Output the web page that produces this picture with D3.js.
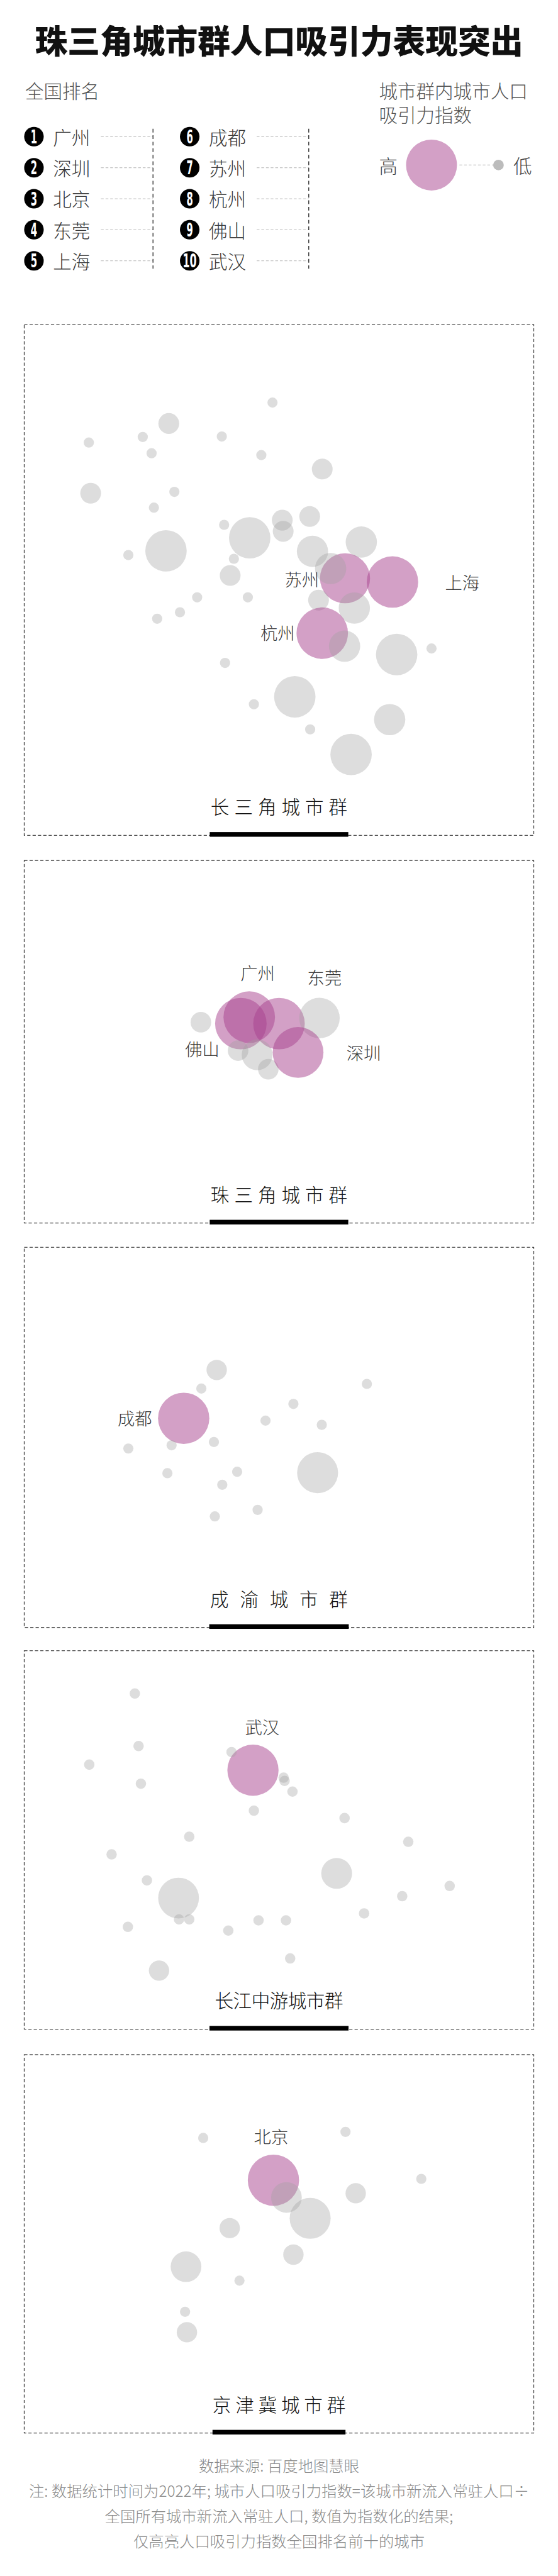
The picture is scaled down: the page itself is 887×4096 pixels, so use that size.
<!DOCTYPE html>
<html><head><meta charset="utf-8">
<script src="https://cdn.jsdelivr.net/npm/d3@7"></script>
<style>
html,body{margin:0;padding:0;background:#fff;}
svg{display:block;}
</style></head>
<body>
<svg id="chart"></svg>
<script>
// ================= DATA =================
const chartTitle = "珠三角城市群人口吸引力表现突出";
const rankTitle = "全国排名";
const rankCities = ["广州","深圳","北京","东莞","上海","成都","苏州","杭州","佛山","武汉"];
const sizeLegendTitle = ["城市群内城市人口","吸引力指数"];
const sizeLegendLabels = ["高","低"];
const sizeLegendValues = [30, 1.3];
const clusterNames = ["长三角城市群","珠三角城市群","成渝城市群","长江中游城市群","京津冀城市群"];
const footerLines = [
  "数据来源: 百度地图慧眼",
  "注: 数据统计时间为2022年; 城市人口吸引力指数=该城市新流入常驻人口÷",
  "全国所有城市新流入常驻人口, 数值为指数化的结果;",
  "仅高亮人口吸引力指数全国排名前十的城市"
];

// cities in each cluster: layout coordinates (x, y) and population attraction index (v)
const yrdCities = [
  {name:"", x:534, y:168, v:1.2},
  {name:"", x:311, y:213, v:5.0},
  {name:"", x:139, y:254, v:1.2},
  {name:"", x:255, y:242, v:1.2},
  {name:"", x:274, y:277, v:1.2},
  {name:"", x:425, y:241, v:1.2},
  {name:"", x:510, y:281, v:1.2},
  {name:"", x:641, y:311, v:5.0},
  {name:"", x:143, y:363, v:5.0},
  {name:"", x:323, y:360, v:1.2},
  {name:"", x:279, y:394, v:1.2},
  {name:"", x:430, y:431, v:1.2},
  {name:"", x:485, y:459, v:19.8},
  {name:"", x:555, y:421, v:5.0},
  {name:"", x:557, y:445, v:5.0},
  {name:"", x:614, y:413, v:5.0},
  {name:"", x:305, y:487, v:19.8},
  {name:"", x:224, y:496, v:1.2},
  {name:"", x:451, y:504, v:1.2},
  {name:"", x:620, y:488, v:11.3},
  {name:"", x:725, y:468, v:11.3},
  {name:"", x:443, y:540, v:5.0},
  {name:"苏州", x:690, y:546, v:29.0},
  {name:"上海", x:792, y:554, v:30.6},
  {name:"", x:659, y:525, v:11.3},
  {name:"", x:372, y:587, v:1.2},
  {name:"", x:481, y:587, v:1.2},
  {name:"", x:633, y:593, v:5.0},
  {name:"", x:710, y:610, v:11.3},
  {name:"", x:335, y:619, v:1.2},
  {name:"", x:286, y:633, v:1.2},
  {name:"杭州", x:641, y:664, v:30.6},
  {name:"", x:689, y:692, v:11.3},
  {name:"", x:876, y:697, v:1.2},
  {name:"", x:432, y:728, v:1.2},
  {name:"", x:801, y:710, v:19.8},
  {name:"", x:582, y:801, v:19.8},
  {name:"", x:494, y:817, v:1.2},
  {name:"", x:786, y:850, v:11.3},
  {name:"", x:615, y:871, v:1.2},
  {name:"", x:703, y:925, v:19.8}
];
const prdCities = [
  {name:"", x:380, y:348, v:4.9},
  {name:"佛山", x:466, y:351, v:30.7},
  {name:"广州", x:484, y:337, v:30.7},
  {name:"东莞", x:548, y:351, v:30.7},
  {name:"", x:635, y:339, v:19.0},
  {name:"", x:460, y:409, v:4.9},
  {name:"", x:501, y:418, v:11.0},
  {name:"", x:525, y:449, v:4.9},
  {name:"深圳", x:589, y:413, v:29.8}
];
const cyCities = [
  {name:"", x:414, y:264, v:4.8},
  {name:"", x:381, y:304, v:1.2},
  {name:"成都", x:343, y:368, v:30.4},
  {name:"", x:737, y:294, v:1.2},
  {name:"", x:579, y:337, v:1.2},
  {name:"", x:519, y:373, v:1.2},
  {name:"", x:640, y:382, v:1.2},
  {name:"", x:224, y:433, v:1.2},
  {name:"", x:317, y:426, v:1.2},
  {name:"", x:408, y:419, v:1.2},
  {name:"", x:631, y:485, v:19.4},
  {name:"", x:308, y:486, v:1.2},
  {name:"", x:458, y:483, v:1.2},
  {name:"", x:426, y:511, v:1.2},
  {name:"", x:502, y:565, v:1.2},
  {name:"", x:410, y:579, v:1.2}
];
const mycCities = [
  {name:"", x:238, y:92, v:1.25},
  {name:"", x:246, y:205, v:1.25},
  {name:"", x:140, y:245, v:1.25},
  {name:"", x:251, y:286, v:1.25},
  {name:"武汉", x:492, y:257, v:30.3},
  {name:"", x:446, y:218, v:1.25},
  {name:"", x:558, y:273, v:1.25},
  {name:"", x:560, y:280, v:1.25},
  {name:"", x:577, y:303, v:1.25},
  {name:"", x:494, y:344, v:1.25},
  {name:"", x:689, y:360, v:1.25},
  {name:"", x:355, y:400, v:1.25},
  {name:"", x:188, y:438, v:1.25},
  {name:"", x:826, y:411, v:1.25},
  {name:"", x:672, y:479, v:11.0},
  {name:"", x:264, y:494, v:1.25},
  {name:"", x:332, y:532, v:19.2},
  {name:"", x:915, y:506, v:1.25},
  {name:"", x:813, y:528, v:1.25},
  {name:"", x:731, y:565, v:1.25},
  {name:"", x:333, y:578, v:1.25},
  {name:"", x:355, y:578, v:1.25},
  {name:"", x:223, y:594, v:1.25},
  {name:"", x:504, y:580, v:1.25},
  {name:"", x:563, y:580, v:1.25},
  {name:"", x:439, y:602, v:1.25},
  {name:"", x:572, y:662, v:1.25},
  {name:"", x:290, y:688, v:4.8}
];
const jjjCities = [
  {name:"", x:385, y:179, v:1.2},
  {name:"", x:691, y:166, v:1.2},
  {name:"北京", x:536, y:270, v:30.4},
  {name:"", x:854, y:267, v:1.2},
  {name:"", x:564, y:307, v:10.9},
  {name:"", x:713, y:298, v:4.8},
  {name:"", x:615, y:352, v:19.4},
  {name:"", x:442, y:373, v:4.8},
  {name:"", x:579, y:430, v:4.8},
  {name:"", x:348, y:456, v:10.9},
  {name:"", x:463, y:486, v:1.2},
  {name:"", x:346, y:553, v:1.2},
  {name:"", x:350, y:597, v:4.8}
];
const clusterCities = [yrdCities, prdCities, cyCities, mycCities, jjjCities];

// ================= LAYOUT / STYLE (reference px) =================
const S = 887 / 1200;
const W = 887, H = 4096;
const FONT = "'Noto Sans CJK SC','Noto Sans CJK TC',sans-serif";
const PINK = "rgb(167,65,141)", PINK_OP = 0.5;
const GRAY = "rgb(160,162,162)", GRAY_OP = 0.36;
const boxX0 = 52, boxX1 = 1148;
const boxTops = [698, 1851, 2683, 3551, 4420];
const boxBottoms = [1797, 2631, 3501, 4365, 5234];
const titleWidths = [294, 294, 296, 276, 286];
const barWidths = [298, 298, 300, 299, 286];
const labelPos = {
  "苏州": {anchor:"end", dx:-56, dy:0},
  "上海": {anchor:"start", dx:113, dy:0},
  "杭州": {anchor:"end", dx:-59, dy:-2},
  "广州": {anchor:"middle", dx:18, dy:-97},
  "东莞": {anchor:"middle", dx:98, dy:-101},
  "佛山": {anchor:"end", dx:-46, dy:53},
  "深圳": {anchor:"start", dx:104, dy:-1},
  "成都": {anchor:"end", dx:-68, dy:-2},
  "武汉": {anchor:"middle", dx:20, dy:-95},
  "北京": {anchor:"middle", dx:-5, dy:-95}
};

const svg = d3.select("#chart").attr("width", W).attr("height", H)
  .style("font-family", FONT);
svg.append("rect").attr("width", W).attr("height", H).attr("fill", "#fff");

const rScale = d3.scaleSqrt().domain([0, 100]).range([0, 100 * S]);

// ---- Title ----
svg.append("text")
  .attr("x", 600 * S).attr("y", 85 * S)
  .attr("text-anchor", "middle").attr("dominant-baseline", "central")
  .attr("font-size", 70 * S).attr("font-weight", 900).attr("fill", "#111")
  .text(chartTitle);

// ---- Rank legend ----
svg.append("text")
  .attr("x", 54 * S).attr("y", 194 * S)
  .attr("dominant-baseline", "central")
  .attr("font-size", 40 * S).attr("font-weight", 300).attr("fill", "#555")
  .text(rankTitle);

const rowY = d3.scaleLinear().domain([0, 4]).range([294 * S, 561 * S]);
const colX = d3.scaleOrdinal().domain([0, 1]).range([73 * S, 408 * S]);
const lg = svg.append("g");
rankCities.forEach((c, i) => {
  const col = Math.floor(i / 5), row = i % 5;
  const cx = colX(col), cy = rowY(row);
  lg.append("circle").attr("cx", cx).attr("cy", cy).attr("r", 21 * S).attr("fill", "#000");
  const num = String(i + 1);
  lg.append("text")
    .attr("x", cx).attr("y", cy + 1 * S)
    .attr("text-anchor", "middle").attr("dominant-baseline", "central")
    .attr("font-family", "'Liberation Sans Narrow','DejaVu Sans Condensed',sans-serif")
    .attr("font-weight", 700).attr("font-size", 40 * S).attr("fill", "#fff")
    .attr("textLength", (num.length > 1 ? 30 : 14) * S)
    .attr("lengthAdjust", "spacingAndGlyphs")
    .text(num);
  lg.append("text")
    .attr("x", cx + 41 * S).attr("y", cy)
    .attr("dominant-baseline", "central")
    .attr("font-size", 40 * S).attr("font-weight", 300).attr("fill", "#3a3a3a")
    .text(c);
  lg.append("line")
    .attr("x1", cx + 144 * S).attr("x2", cx + 256 * S)
    .attr("y1", cy).attr("y2", cy)
    .attr("stroke", "#c4c4c4").attr("stroke-width", 1.6 * S)
    .attr("stroke-dasharray", `${6 * S},${4 * S}`);
});
[0, 1].forEach(col => {
  lg.append("line")
    .attr("x1", colX(col) + 256 * S).attr("x2", colX(col) + 256 * S)
    .attr("y1", 277 * S).attr("y2", 578 * S)
    .attr("stroke", "#111").attr("stroke-width", 1.6 * S)
    .attr("stroke-dasharray", `${8 * S},${6 * S}`);
});

// ---- Size legend ----
sizeLegendTitle.forEach((t, i) => {
  svg.append("text")
    .attr("x", 815 * S).attr("y", (194 + 52 * i) * S)
    .attr("dominant-baseline", "central")
    .attr("font-size", 40 * S).attr("font-weight", 300).attr("fill", "#555")
    .text(t);
});
const ly = 355 * S;
svg.append("text").attr("x", 815 * S).attr("y", ly)
  .attr("dominant-baseline", "central")
  .attr("font-size", 40 * S).attr("font-weight", 300).attr("fill", "#444")
  .text(sizeLegendLabels[0]);
svg.append("line")
  .attr("x1", 988 * S).attr("x2", 1062 * S).attr("y1", ly).attr("y2", ly)
  .attr("stroke", "#c4c4c4").attr("stroke-width", 1.6 * S)
  .attr("stroke-dasharray", `${6 * S},${4 * S}`);
svg.append("circle").attr("cx", 928 * S).attr("cy", ly).attr("r", rScale(sizeLegendValues[0]))
  .attr("fill", PINK).attr("fill-opacity", PINK_OP);
svg.append("circle").attr("cx", 1072 * S).attr("cy", ly).attr("r", rScale(sizeLegendValues[1]))
  .attr("fill", "#bcbcbc");
svg.append("text").attr("x", 1104 * S).attr("y", ly)
  .attr("dominant-baseline", "central")
  .attr("font-size", 40 * S).attr("font-weight", 300).attr("fill", "#444")
  .text(sizeLegendLabels[1]);

// ---- Cluster panels ----
clusterNames.forEach((name, k) => {
  const top = boxTops[k], bottom = boxBottoms[k];
  const g = svg.append("g");
  const x = d3.scaleLinear().domain([0, boxX1 - boxX0]).range([boxX0 * S, boxX1 * S]);
  const y = d3.scaleLinear().domain([0, bottom - top]).range([top * S, bottom * S]);

  g.append("rect")
    .attr("x", boxX0 * S).attr("y", top * S)
    .attr("width", (boxX1 - boxX0) * S).attr("height", (bottom - top) * S)
    .attr("fill", "none").attr("stroke", "#222").attr("stroke-width", 1.5 * S)
    .attr("stroke-dasharray", `${7 * S},${4.5 * S}`);

  const data = clusterCities[k];
  g.selectAll("circle.city").data(data).join("circle")
    .attr("class", "city")
    .attr("cx", d => x(d.x)).attr("cy", d => y(d.y)).attr("r", d => rScale(d.v))
    .attr("fill", d => rankCities.includes(d.name) ? PINK : GRAY)
    .attr("fill-opacity", d => rankCities.includes(d.name) ? PINK_OP : GRAY_OP);

  g.selectAll("text.lab").data(data.filter(d => rankCities.includes(d.name))).join("text")
    .attr("class", "lab")
    .attr("x", d => x(d.x) + labelPos[d.name].dx * S)
    .attr("y", d => y(d.y) + labelPos[d.name].dy * S)
    .attr("text-anchor", d => labelPos[d.name].anchor)
    .attr("dominant-baseline", "central")
    .attr("font-size", 37 * S).attr("font-weight", 300).attr("fill", "#3a3a3a")
    .text(d => d.name);

  g.append("text")
    .attr("x", 600 * S).attr("y", (bottom - 63) * S)
    .attr("text-anchor", "middle").attr("dominant-baseline", "central")
    .attr("font-size", 40 * S).attr("font-weight", 300).attr("fill", "#111")
    .attr("textLength", titleWidths[k] * S).attr("lengthAdjust", "spacing")
    .text(name);

  g.append("rect")
    .attr("x", (600 - barWidths[k] / 2) * S).attr("y", (bottom - 7) * S)
    .attr("width", barWidths[k] * S).attr("height", 10 * S)
    .attr("fill", "#000");
});

// ---- Footer ----
const footY = d3.scaleLinear().domain([0, 3]).range([5303 * S, 5465 * S]);
footerLines.forEach((t, i) => {
  svg.append("text")
    .attr("x", 600 * S).attr("y", footY(i))
    .attr("text-anchor", "middle").attr("dominant-baseline", "central")
    .attr("font-size", 33 * S).attr("font-weight", 300).attr("fill", "#8a8a8a")
    .text(t);
});
</script>
</body></html>
